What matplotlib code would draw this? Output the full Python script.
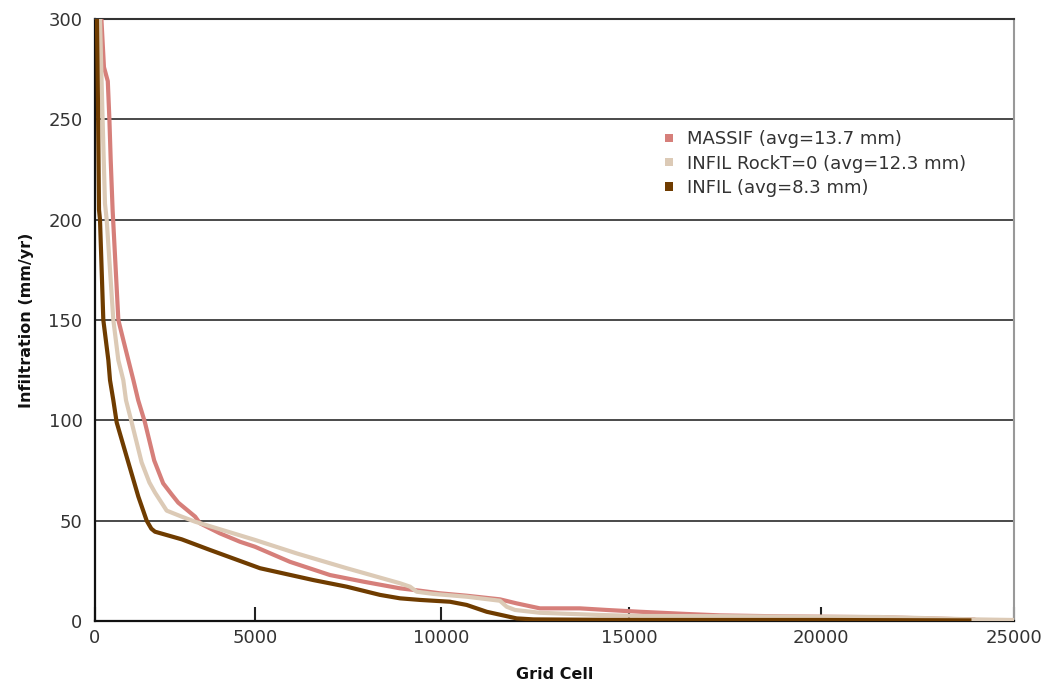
import numpy as np
import matplotlib
matplotlib.use('Agg')
import matplotlib.pyplot as plt
from matplotlib.patches import Patch

# curves (x = grid cell, y = mm/yr)
massif_x = [0, 200, 280, 400, 450, 490, 550, 730, 885, 1200, 1350, 1560, 1850, 2130, 2400, 2600,
            3130, 3280, 3900, 4530, 5000, 5940, 7020, 7920, 8900, 9440, 9980, 10690, 11570, 12010,
            12630, 13690, 14400, 15280, 16500, 17370, 19000, 21500, 22500, 24000]
massif_y = [400, 300, 276, 269, 250, 230, 205, 150, 140, 120, 110, 99, 80, 68.6, 63, 59,
            52, 48.7, 43.7, 39.5, 37, 29.5, 22.9, 19.6, 16.3, 15.1, 13.8, 12.6, 10.8, 8.8,
            6.3, 6.3, 5.5, 4.6, 3.5, 2.8, 2.3, 1.9, 1.4, 0.7]

rockt_x = [0, 156, 229, 312, 365, 573, 729, 885, 969, 1146, 1458, 1700, 1875, 2240, 2710, 3125,
           5000, 6120, 7470, 8905, 9175, 9354, 9800, 10690, 11570, 11750, 11970, 12630,
           14220, 15280, 17370, 19000, 21500, 22400, 24000, 25000]
rockt_y = [400, 300, 255, 208, 200, 150, 130, 120, 110, 99, 79, 69, 64, 55, 52, 49.5,
           40.4, 33.7, 26.3, 18.8, 17.1, 14.6, 13.5, 12.1, 10.1, 7.1, 5.5, 4.1,
           3.0, 2.5, 2.4, 2.2, 2.0, 1.6, 0.8, 0.5]

infil_x = [0, 60, 95, 125, 156, 260, 417, 469, 573, 677, 1042, 1354, 1615, 1760, 1875, 2710,
           3594, 5135, 6570, 7470, 8368, 8905, 9444, 10246, 10689, 11219, 12014, 12456,
           15280, 20000, 23900]
infil_y = [420, 300, 255, 205, 200, 150, 130, 120, 110, 99, 79, 62, 50, 46, 44.5, 40.7,
           35.4, 26.3, 20.4, 17.1, 13, 11.3, 10.5, 9.6, 8, 4.6, 1.3, 0.8,
           0.5, 0.5, 0.3]

labels = ['MASSIF (avg=13.7 mm)', 'INFIL RockT=0 (avg=12.3 mm)', 'INFIL (avg=8.3 mm)']
colors = ['#d67f7a', '#dccab6', '#6f3c00']

# the x ticks in the original are not evenly spaced
tick_vals = [0, 5000, 10000, 15000, 20000, 25000]
tick_pos = [0, 160, 345.7, 534.3, 725.7, 919]


def fwd(x):
    return np.interp(x, tick_vals, tick_pos)


def inv(p):
    return np.interp(p, tick_pos, tick_vals)


plt.rcParams['font.family'] = ['DejaVu Sans']
fig = plt.figure(figsize=(10.47, 6.85), dpi=100)
ax = fig.add_axes([95 / 1047, 1 - 621 / 685, 919 / 1047, 602 / 685])

ax.set_xscale('function', functions=(fwd, inv))
ax.plot(massif_x, massif_y, color=colors[0], lw=3, solid_capstyle='butt', solid_joinstyle='round', zorder=3)
ax.plot(rockt_x, rockt_y, color=colors[1], lw=3, solid_capstyle='butt', solid_joinstyle='round', zorder=4)
ax.plot(infil_x, infil_y, color=colors[2], lw=3, solid_capstyle='butt', solid_joinstyle='round', zorder=5)

ax.set_xlim(0, 25000)
ax.set_ylim(0, 300)
ax.set_xticks(tick_vals)
ax.set_xticklabels([str(v) for v in tick_vals])
ax.set_yticks([0, 50, 100, 150, 200, 250, 300])

ax.yaxis.grid(True, color='#2b2b2b', lw=1.2)
ax.set_axisbelow(True)
ax.tick_params(axis='x', direction='in', length=10, width=1.5, color='#222222',
               labelsize=13, labelcolor='#333333', pad=6)
ax.tick_params(axis='y', length=0, labelsize=13, labelcolor='#333333', pad=9)

for s in ['left', 'bottom']:
    ax.spines[s].set_color('#111111')
    ax.spines[s].set_linewidth(1.6)
ax.spines['top'].set_color('#333333')
ax.spines['top'].set_linewidth(1.5)
ax.spines['right'].set_color('#999999')
ax.spines['right'].set_linewidth(1.5)

ax.set_ylabel('Infiltration (mm/yr)', fontsize=11.5, fontweight='bold', color='#111111', labelpad=10)
ax.set_xlabel('Grid Cell', fontsize=11.5, fontweight='bold', color='#111111', labelpad=14)

handles = [Patch(facecolor=c, edgecolor='none') for c in colors]
leg = ax.legend(handles, labels, loc='upper left', bbox_to_anchor=(0.620, 0.815),
                frameon=False, fontsize=13, borderpad=0, borderaxespad=0,
                handlelength=0.45, handleheight=0.35, handletextpad=0.8, labelspacing=0.35)
for t in leg.get_texts():
    t.set_color('#333333')

fig.savefig('out.png', dpi=100)
